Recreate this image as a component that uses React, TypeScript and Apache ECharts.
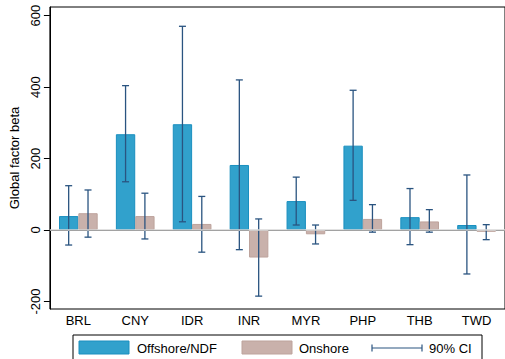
import React, { useEffect, useRef } from "react";
import * as echarts from "echarts";

const categories = ["BRL", "CNY", "IDR", "INR", "MYR", "PHP", "THB", "TWD"];
const offshore = [39, 268, 296, 182, 81, 236, 36, 14];
const onshore = [47, 39, 17, -77, -12, 31, 24, -5];
const offshoreLo = [-42, 135, 23, -55, 14, 83, -41, -123];
const offshoreHi = [124, 404, 570, 420, 148, 391, 116, 154];
const onshoreLo = [-20, -25, -62, -185, -39, -6, -6, -27];
const onshoreHi = [112, 103, 94, 31, 14, 71, 57, 15];
const yTicks = [-200, 0, 200, 400, 600];

const FONT = "Liberation Sans, Arial, Helvetica, sans-serif";
const BAR_FRAC = 0.34;
const BLUE = "#31a1cc";
const BLUE_B = "#1a8fbf";
const PINK = "#c9b1ab";
const PINK_B = "#bda39c";
const CI = "#2a5480";

function errRender(sign: number) {
  return (params: any, api: any) => {
    const idx = api.value(0);
    const lo = api.coord([idx, api.value(1)]);
    const hi = api.coord([idx, api.value(2)]);
    const band = api.size([1, 0])[0];
    const x = lo[0] + sign * band * BAR_FRAC / 2;
    const cap = 3.5;
    const st = { stroke: CI, lineWidth: 1.3 };
    return {
      type: "group",
      children: [
        { type: "line", shape: { x1: x, y1: hi[1], x2: x, y2: lo[1] }, style: st },
        { type: "line", shape: { x1: x - cap, y1: hi[1], x2: x + cap, y2: hi[1] }, style: st },
        { type: "line", shape: { x1: x - cap, y1: lo[1], x2: x + cap, y2: lo[1] }, style: st },
      ],
    };
  };
}

export default function App() {
  const ref = useRef<HTMLDivElement>(null);
  useEffect(() => {
    if (!ref.current) return;
    const chart = echarts.init(ref.current, null, { renderer: "svg" });
    const offErr = categories.map((_, i) => [i, offshoreLo[i], offshoreHi[i]]);
    const onErr = categories.map((_, i) => [i, onshoreLo[i], onshoreHi[i]]);
    chart.setOption({
      animation: false,
      backgroundColor: "#ffffff",
      textStyle: { fontFamily: FONT },
      grid: {
        left: 45,
        top: 7,
        width: 465,
        bottom: 50,
        show: true,
        borderColor: "#000",
        borderWidth: 1,
        containLabel: false,
      },
      xAxis: {
        type: "category",
        data: categories,
        axisLine: { show: true, lineStyle: { color: "#000", width: 1 } },
        axisTick: { show: false },
        axisLabel: { color: "#000", fontSize: 13, fontFamily: FONT, margin: 5 },
        splitLine: { show: false },
      },
      yAxis: {
        type: "value",
        min: -221,
        max: 624,
        name: "Global factor beta",
        nameLocation: "middle",
        nameGap: 27,
        nameTextStyle: { color: "#000", fontSize: 13, fontFamily: FONT },
        axisLine: { show: true, lineStyle: { color: "#000", width: 1 } },
        axisTick: { show: true, length: 6, customValues: yTicks, lineStyle: { color: "#000" } },
        axisLabel: {
          color: "#000",
          fontSize: 13,
          fontFamily: FONT,
          rotate: 90,
          margin: 8,
          customValues: yTicks,
        },
        splitLine: { show: false },
      },
      series: [
        {
          type: "line",
          data: [],
          z: 0,
          silent: true,
          markLine: {
            silent: true,
            symbol: "none",
            label: { show: false },
            lineStyle: { color: "#d8d8d8", width: 1.5, type: "solid" },
            data: [{ yAxis: 0 }],
          },
        },
        {
          name: "Offshore/NDF",
          type: "bar",
          data: offshore,
          barWidth: `${BAR_FRAC * 100}%`,
          barGap: "0%",
          z: 2,
          itemStyle: { color: BLUE, borderColor: BLUE_B, borderWidth: 1 },
        },
        {
          name: "Onshore",
          type: "bar",
          data: onshore,
          barWidth: `${BAR_FRAC * 100}%`,
          barGap: "0%",
          z: 2,
          itemStyle: { color: PINK, borderColor: PINK_B, borderWidth: 1 },
        },
        {
          name: "90% CI",
          type: "custom",
          data: offErr,
          encode: { x: 0, y: [1, 2] },
          renderItem: errRender(-1),
          z: 3,
        },
        {
          name: "90% CI ",
          type: "custom",
          data: onErr,
          encode: { x: 0, y: [1, 2] },
          renderItem: errRender(1),
          z: 3,
        },
      ],
      graphic: [
        {
          type: "rect",
          shape: { x: 73, y: 335, width: 409, height: 30 },
          style: { fill: "#fff", stroke: "#000", lineWidth: 1 },
        },
        {
          type: "rect",
          shape: { x: 79, y: 341, width: 50, height: 13 },
          style: { fill: BLUE, stroke: BLUE_B, lineWidth: 1 },
        },
        {
          type: "text",
          x: 137,
          y: 348,
          style: { text: "Offshore/NDF", fill: "#000", font: `13px ${FONT}`, verticalAlign: "middle" },
        },
        {
          type: "rect",
          shape: { x: 242, y: 341, width: 50, height: 13 },
          style: { fill: PINK, stroke: PINK_B, lineWidth: 1 },
        },
        {
          type: "text",
          x: 299,
          y: 348,
          style: { text: "Onshore", fill: "#000", font: `13px ${FONT}`, verticalAlign: "middle" },
        },
        {
          type: "line",
          shape: { x1: 372, y1: 348, x2: 422, y2: 348 },
          style: { stroke: CI, lineWidth: 1.2 },
        },
        {
          type: "line",
          shape: { x1: 372, y1: 344.5, x2: 372, y2: 351.5 },
          style: { stroke: CI, lineWidth: 1.2 },
        },
        {
          type: "line",
          shape: { x1: 422, y1: 344.5, x2: 422, y2: 351.5 },
          style: { stroke: CI, lineWidth: 1.2 },
        },
        {
          type: "text",
          x: 429,
          y: 348,
          style: { text: "90% CI", fill: "#000", font: `13px ${FONT}`, verticalAlign: "middle" },
        },
      ],
    });
    return () => chart.dispose();
  }, []);
  return (
    <div
      ref={ref}
      style={{ position: "absolute", left: 0, top: 0, width: 505, height: 359, background: "#fff" }}
    />
  );
}
